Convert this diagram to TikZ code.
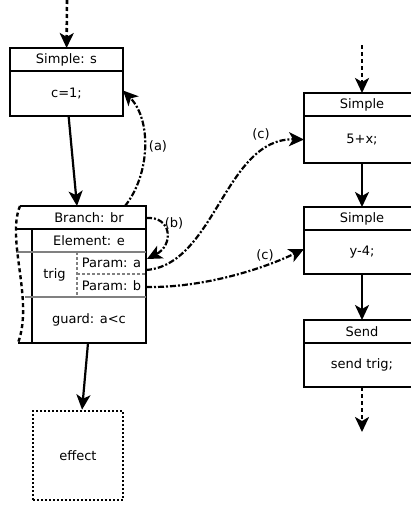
\documentclass[tikz,border=0pt]{standalone}
\usepackage{fontspec}
\setmainfont{DejaVu Sans}
\usepackage{tikz}
\usetikzlibrary{arrows.meta}
\usetikzlibrary{positioning}

\tikzset{
    box/.style={draw, line width=2.4pt, inner sep=0pt, outer sep=0pt, minimum height=23pt},
    flow/.style={-{Stealth[length=15pt,width=14pt,inset=4pt]}, line width=2.2pt},
    dotflow/.style={flow, line width=2.6pt, dash pattern=on 4pt off 3pt},
    linkflow/.style={flow, dash pattern=on 6pt off 2pt on 2pt off 2pt},
    rowline/.style={line width=2.4pt},
    softline/.style={line width=2.2pt, gray},
    softdash/.style={softline, dash pattern=on 3pt off 2pt},
    wave/.style={line width=2.4pt, dash pattern=on 4pt off 3pt},
    effectbox/.style={draw, line width=2.6pt, dash pattern=on 2pt off 2pt, inner sep=0pt}
}

\begin{document}
\begin{tikzpicture}[x=1pt, y=-1pt, font=\fontsize{13}{15}\selectfont]
        \def\wl{113pt}  % width of left box
        \def\wr{116pt}  % width of right boxes

        \useasboundingbox (0,0) rectangle (410,506);

        % Left simple box
        \node[box, minimum width=\wl] (sHead) at (66.5,59.5) {Simple: s};
        \node[box, minimum width=\wl, minimum height=45pt, below=0pt of sHead] (sBody) {c=1;};

        % Right column
        \node[box, minimum width=\wr] (rHeadA) at (362,104.5) {Simple};
        \node[box, minimum width=\wr, minimum height=47pt, below=0pt of rHeadA] (rBodyA) {5+x;};
        \node[box, minimum width=\wr] (rHeadB) at (362,218.5) {Simple};
        \node[box, minimum width=\wr, minimum height=44pt, below=0pt of rHeadB] (rBodyB) {y-4;};
        \node[box, minimum width=\wr] (sendHead) at (362,331.5) {Send};
        \node[box, minimum width=\wr, minimum height=44pt, below=0pt of sendHead] (sendBody) {send trig;};

        % Calculate the corners of the branch table
        \coordinate (brTL) at (20,206);
        \coordinate (brTR) at (146,206);
        \coordinate (brBR) at (146,343);
        \coordinate (brBL) at (18,343);

        % Draw the branch table
        \draw[rowline] (brTL) -- (brTR) -- (brBR) -- (brBL);
        \draw[rowline] (16,229) -- (146,229);
        \draw[rowline] (32,229) -- (32,343);
        \draw[softline] (16,252) -- (146,252);
        \draw[softline] (25,297) -- (146,297);
        \draw[softdash] (77,252) -- (77,297);
        \draw[softdash] (77,274) -- (146,274);
        \draw[wave] (brTL) .. controls (6,240) and (34,300) .. (brBL);

        \node (brHead) at (89,217.5) {Branch: br};
        \node (elem) at (89,240.5) {Element: e};
        \node (trig) at (54.5,274.5) {trig};
        \node (parA) at (111.5,263) {Param: a};
        \node (parB) at (111.5,286) {Param: b};
        \node (guard) at (89,320) {guard: a<c};

        % Effect box
        \node[effectbox, minimum width=90pt, minimum height=89pt] (effect) at (78,455.5) {effect};

        % Free ends and connection points
        \coordinate (sIn) at (67,0);
        \coordinate (rIn) at (362,45);
        \coordinate (rOut) at (362,432);
        \coordinate (brIn) at (77,206);
        \coordinate (brOut) at (88,343);
        \coordinate (aFrom) at (125,206);
        \coordinate (bFrom) at (146,218);
        \coordinate (bTo) at (147,259);
        \coordinate (cFromA) at (146,270);
        \coordinate (cFromB) at (146,287);

        % Draw the control flow
        \draw[dotflow] (sIn) -- (sHead);
        \draw[flow] (sBody) -- (brIn);
        \draw[flow] (brOut) -- (effect);
        \draw[dotflow] (rIn) -- (rHeadA);
        \draw[flow] (rBodyA) -- (rHeadB);
        \draw[flow] (rBodyB) -- (sendHead);
        \draw[dotflow] (sendBody) -- (rOut);

        % Draw the links
        \draw[linkflow] (aFrom) .. controls (150,175) and (152,120) .. ([yshift=3pt]sBody.east);
        \draw[linkflow] (bFrom) .. controls (172,216) and (174,245) .. (bTo);
        \draw[linkflow] (cFromA) .. controls (215,265) and (225,138) .. (rBodyA.west);
        \draw[linkflow] (cFromB) .. controls (205,288) and (265,268) .. ([yshift=3pt]rBodyB.west);

        \node (labA) at (158,146) {(a)};
        \node (labB) at (174,223) {(b)};
        \node (labCA) at (261,134) {(c)};
        \node (labCB) at (265,255) {(c)};
      \end{tikzpicture}
\end{document}
